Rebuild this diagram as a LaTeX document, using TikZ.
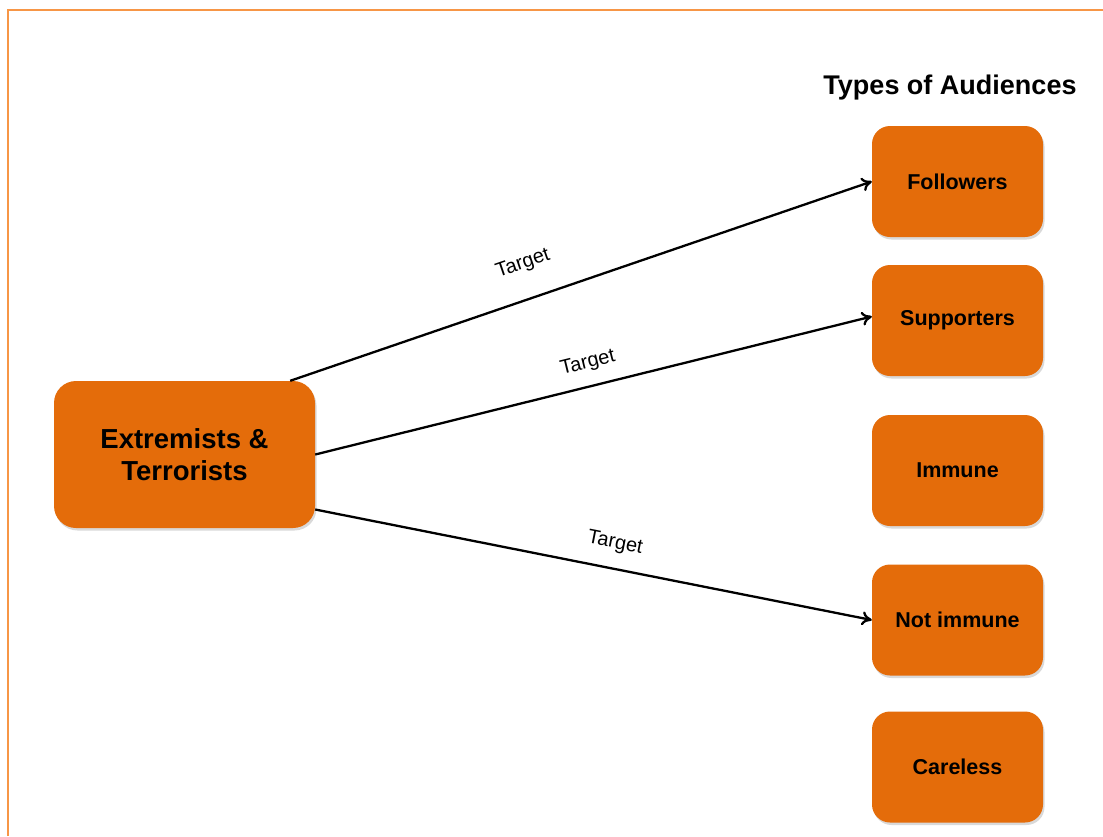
\documentclass[tikz,border=0pt]{standalone}
\usepackage{fontspec}
\setmainfont{Liberation Sans}
\usetikzlibrary{shadows,arrows.meta}
\definecolor{boxorange}{HTML}{E46C0A}
\definecolor{frameorange}{HTML}{F79646}

\begin{document}
\begin{tikzpicture}[x=1pt,y=-1pt,
	audience/.style={fill=boxorange, rounded corners=18pt, minimum width=171pt, minimum height=111pt,
		inner sep=0pt, font=\bfseries\fontsize{21.5}{26}\selectfont,
		drop shadow={opacity=0.3, shadow xshift=1.5pt, shadow yshift=-2.5pt}},
	actor/.style={audience, rounded corners=22pt, minimum width=261pt, minimum height=147pt,
		align=center, font=\bfseries\fontsize{27.5}{32}\selectfont},
	target/.style={line width=2.3pt, -{To[length=10pt,width=14pt]}},
	tlabel/.style={sloped, above=13pt, inner sep=0pt, font=\fontsize{20}{24}\selectfont}]
	\useasboundingbox (0,0) rectangle (1103,836);
	\draw[frameorange, line width=2.2pt] (8,836) -- (8,10) -- (1103,10);

	\node[font=\bfseries\fontsize{27}{31}\selectfont] (title) at (950,88) {Types of Audiences};

	\node[actor] (extr) at (184.5,454.5) {Extremists \&\\Terrorists};

	\node[audience] (foll) at (957.5,181.5) {Followers};
	\node[audience] (supp) at (957.5,320.5) {Supporters};
	\node[audience] (imm) at (957.5,470.5) {Immune};
	\node[audience] (notimm) at (957.5,620) {Not immune};
	\node[audience] (care) at (957.5,767) {Careless};

	\draw[target] ([xshift=-25pt]extr.north east) -- node[tlabel, above=12pt, pos=0.42] {Target} (foll.west);
	\draw[target] (extr.east) -- node[tlabel, pos=0.5] {Target} ([yshift=4pt]supp.west);
	\draw[target] ([yshift=-55pt]extr.east) -- node[tlabel, above=2pt, pos=0.53] {Target} (notimm.west);
\end{tikzpicture}
\end{document}
